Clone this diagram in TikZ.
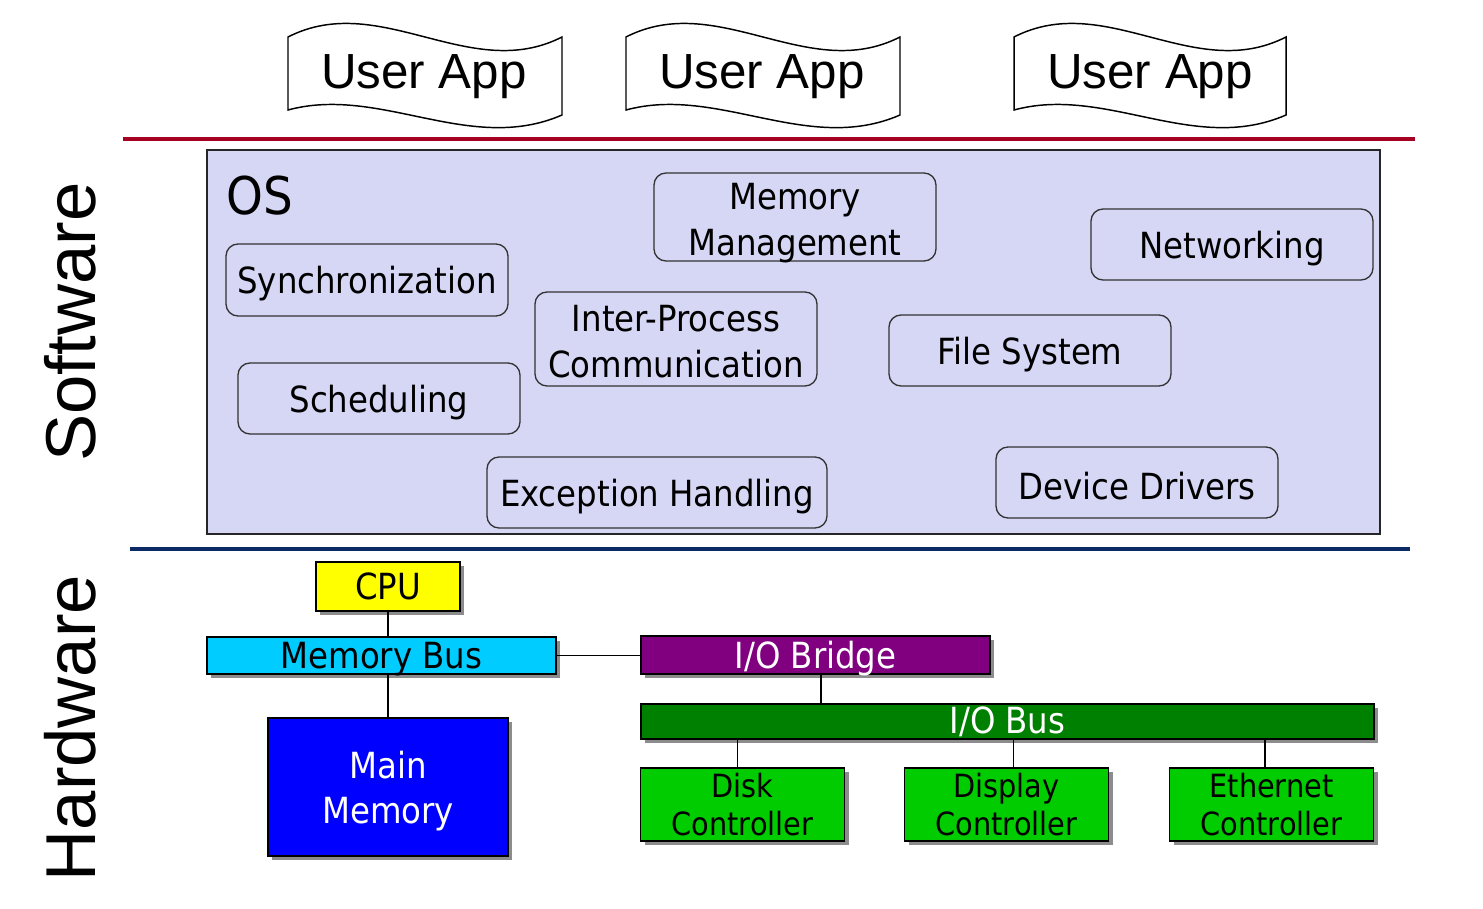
\documentclass[tikz,border=0pt]{standalone}
\usepackage{fontspec}
\usetikzlibrary{shadows}
\setmainfont{Liberation Sans}
\IfFontExistsTF{DejaVu Sans Condensed}{\newfontfamily\tahf{DejaVu Sans Condensed}}{\newfontfamily\tahf[FakeStretch=0.88]{DejaVu Sans}}
\definecolor{osfill}{HTML}{D6D6F5}
\definecolor{redline}{HTML}{A50021}
\definecolor{blueline}{HTML}{0C2A66}
\definecolor{cpuyellow}{HTML}{FFFF00}
\definecolor{buscyan}{HTML}{00CCFF}
\definecolor{memblue}{HTML}{0000FF}
\definecolor{bridgepurple}{HTML}{800080}
\definecolor{iogreen}{HTML}{008000}
\definecolor{ctrlgreen}{HTML}{00CC00}
\tikzset{
  apptxt/.style={font=\fontsize{37}{44}\selectfont},
  sidelabel/.style={rotate=90,font=\fontsize{53}{60}\selectfont},
  osmodbase/.style={draw=black!80, line width=1pt, rounded corners=9pt, inner sep=0pt,
    align=center, font=\tahf\fontsize{27}{34.5}\selectfont},
  osmod/.style={osmodbase, execute at begin node={\rule{0pt}{26.5pt}}},
  hwbox/.style={draw=black, line width=1.4pt, inner sep=0pt, align=center,
    drop shadow={shadow xshift=3pt, shadow yshift=-3pt, fill=black!45, opacity=1},
    font=\tahf\fontsize{27}{34}\selectfont},
  lowtext/.style={text height=20pt, text depth=0pt},
  ctrl/.style={hwbox, fill=ctrlgreen, minimum width=204*0.75pt, minimum height=73*0.75pt,
    font=\tahf\fontsize{24}{29}\selectfont},
  wire/.style={draw=black, line width=1pt},
  tapeshape/.style={draw=black, fill=white, line width=1.1pt}
}
\begin{document}
\begin{tikzpicture}[x=0.75pt,y=-0.75pt]
\useasboundingbox (0,0) rectangle (1483,909);
% user apps
\foreach \xa/\w in {288/274, 626/274, 1014/272}{
  \draw[tapeshape] (\xa,37) .. controls +(92,-47) and +(-92,47) .. (\xa+\w,37)
     -- (\xa+\w,115) .. controls +(-92,40) and +(92,-25) .. (\xa,110) -- cycle;
}
\node[apptxt] (app1) at (424,77) {User App};
\node[apptxt] (app2) at (762,77) {User App};
\node[apptxt] (app3) at (1150,77) {User App};
% divider lines
\draw[redline, line width=3.5pt] (123,139) -- (1415,139);
\draw[blueline, line width=3pt] (130,549) -- (1410,549);
% side labels
\node[sidelabel] (sw) at (70,322) {Software};
\node[sidelabel] (hw) at (70,728) {Hardware};
% OS box
\node[draw=black!85, fill=osfill, line width=1pt, minimum width=1173*0.75pt,
  minimum height=384*0.75pt, inner sep=0pt] (os) at (793.5,342) {};
\node[font=\tahf\fontsize{39}{44}\selectfont] (oslabel) at (260,196) {OS};
\node[osmod, minimum width=282*0.75pt, minimum height=72*0.75pt] (sync) at (367,280) {Synchronization};
\node[osmodbase, minimum width=282*0.75pt, minimum height=88*0.75pt] (mm) at (795,217) {\rule{0pt}{23.8pt}Memory\\\smash{Management}};
\node[osmod, minimum width=282*0.75pt, minimum height=71*0.75pt] (net) at (1232,244.5) {Networking};
\node[osmodbase, minimum width=282*0.75pt, minimum height=94*0.75pt] (ipc) at (676,339) {\rule{0pt}{23.5pt}Inter-Process\\Communication};
\node[osmod, minimum width=282*0.75pt, minimum height=71*0.75pt] (fs) at (1030,350.5) {File System};
\node[osmod, minimum width=282*0.75pt, minimum height=71*0.75pt] (sched) at (379,398.5) {Scheduling};
\node[osmod, minimum width=340*0.75pt, minimum height=71*0.75pt] (exc) at (657,492.5) {Exception Handling};
\node[osmod, minimum width=282*0.75pt, minimum height=71*0.75pt] (dd) at (1137,482.5) {Device Drivers};
% hardware
\node[hwbox, fill=cpuyellow, minimum width=144*0.75pt, minimum height=49*0.75pt] (cpu) at (388,586.5) {CPU};
\node[hwbox, lowtext, fill=buscyan, minimum width=349*0.75pt, minimum height=37*0.75pt] (membus) at (381.5,655.5) {Memory Bus};
\node[hwbox, fill=memblue, text=white, minimum width=240*0.75pt, minimum height=138*0.75pt] (mainmem) at (388,787) {\rule{0pt}{26.5pt}Main\\Memory};
\node[hwbox, lowtext, fill=bridgepurple, text=white, minimum width=349*0.75pt, minimum height=38*0.75pt] (bridge) at (815.5,655) {I/O Bridge};
\node[hwbox, fill=iogreen, text=white, minimum width=733*0.75pt, minimum height=35*0.75pt] (iobus) at (1007.5,721.5) {I/O Bus};
\node[ctrl] (disk) at (742.5,804.5) {Disk\\Controller};
\node[ctrl] (disp) at (1006.5,804.5) {Display\\Controller};
\node[ctrl] (eth) at (1271.5,804.5) {Ethernet\\Controller};
% wires
\draw[wire] (cpu.south) -- (cpu.south |- membus.north);
\draw[wire] (mainmem.north) -- (mainmem.north |- membus.south);
\draw[wire] (membus.east) -- (membus.east -| bridge.west);
\draw[wire] ([xshift=4pt]bridge.south) -- ([xshift=4pt]bridge.south |- iobus.north);
\draw[wire] ([xshift=-4pt]disk.north) -- ([xshift=-4pt]disk.north |- iobus.south);
\draw[wire] ([xshift=5pt]disp.north) -- ([xshift=5pt]disp.north |- iobus.south);
\draw[wire] ([xshift=-5pt]eth.north) -- ([xshift=-5pt]eth.north |- iobus.south);
\end{tikzpicture}
\end{document}
